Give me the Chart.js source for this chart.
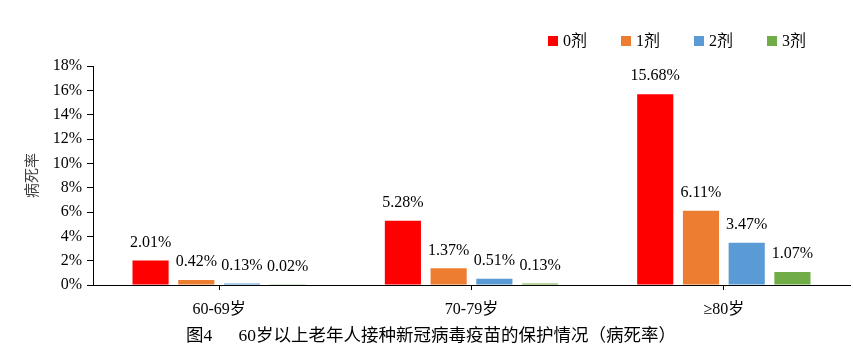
<!DOCTYPE html>
<html>
<head>
<meta charset="utf-8">
<script src="https://cdn.jsdelivr.net/npm/chart.js@4/dist/chart.umd.min.js"></script>
<style>
  html, body { margin: 0; padding: 0; background: #fff; }
  #wrap { width: 853px; height: 362px; }
</style>
</head>
<body>
<div id="wrap"><canvas id="myChart" width="853" height="362"></canvas></div>
<script>
  var categories = ['60-69岁', '70-79岁', '≥80岁'];
  var seriesNames = ['0剂', '1剂', '2剂', '3剂'];
  var dose0 = [2.01, 5.28, 15.68];
  var dose1 = [0.42, 1.37, 6.11];
  var dose2 = [0.13, 0.51, 3.47];
  var dose3 = [0.02, 0.13, 1.07];
  var colors = ['#FF0000', '#ED7D31', '#5B9BD5', '#70AD47'];
  var yTicks = [0, 2, 4, 6, 8, 10, 12, 14, 16, 18];

  var FONT = "'Liberation Serif', 'Noto Sans CJK SC', serif";

  // value labels above the bars
  var valueLabels = {
    id: 'valueLabels',
    afterDatasetsDraw: function(chart) {
      var ctx = chart.ctx;
      ctx.save();
      ctx.font = '16px ' + FONT;
      ctx.fillStyle = '#000';
      ctx.textAlign = 'center';
      ctx.textBaseline = 'middle';
      chart.data.datasets.forEach(function(ds, i) {
        chart.getDatasetMeta(i).data.forEach(function(bar, j) {
          ctx.fillText(ds.data[j].toFixed(2) + '%', bar.x, bar.y - 18);
        });
      });
      ctx.restore();
    }
  };

  // legend in the top right
  var topLegend = {
    id: 'topLegend',
    afterDraw: function(chart) {
      var ctx = chart.ctx;
      ctx.save();
      ctx.font = '16px ' + FONT;
      ctx.textBaseline = 'middle';
      ctx.textAlign = 'left';
      chart.data.datasets.forEach(function(ds, i) {
        var x = 548 + i * 73;
        ctx.fillStyle = ds.backgroundColor;
        ctx.fillRect(x, 36, 10, 10);
        ctx.fillStyle = '#000';
        ctx.fillText(ds.label, x + 15, 41.5);
      });
      ctx.restore();
    }
  };

  var datasets = [dose0, dose1, dose2, dose3].map(function(d, i) {
    return {
      label: seriesNames[i],
      data: d,
      backgroundColor: colors[i],
      categoryPercentage: 0.725,
      barPercentage: 0.79
    };
  });

  var ctx = document.getElementById('myChart').getContext('2d');
  var chart = new Chart(ctx, {
    type: 'bar',
    data: { labels: categories, datasets: datasets },
    plugins: [valueLabels, topLegend],
    options: {
      responsive: false,
      animation: false,
      layout: { padding: { left: 12, right: 3, top: 66, bottom: 15 } },
      plugins: {
        legend: { display: false },
        tooltip: { enabled: false },
        title: {
          display: true,
          position: 'bottom',
          text: '图4\u3000\u200260岁以上老年人接种新冠病毒疫苗的保护情况（病死率）',
          color: '#000',
          font: { family: FONT, size: 17.5, weight: 'normal', lineHeight: 1.2 },
          padding: { top: 0, bottom: 0 }
        }
      },
      scales: {
        x: {
          grid: { display: true, drawOnChartArea: false, offset: false, tickLength: 5, color: '#000' },
          border: { color: '#000', width: 1 },
          ticks: { color: '#000', padding: 10, font: { family: FONT, size: 16 } },
          afterFit: function(scale) { scale.height = 41; }
        },
        y: {
          min: 0,
          max: 18,
          afterBuildTicks: function(scale) {
            scale.ticks = yTicks.map(function(v) { return { value: v }; });
          },
          grid: { display: true, drawOnChartArea: false, tickLength: 6, color: '#000' },
          border: { color: '#000', width: 1 },
          ticks: {
            color: '#000',
            padding: 5,
            font: { family: FONT, size: 16 },
            callback: function(v) { return v + '%'; }
          },
          title: {
            display: true,
            text: '病死率',
            color: '#404040',
            font: { family: FONT, size: 15 },
            padding: { top: 12, bottom: 0 }
          },
          afterFit: function(scale) { scale.width = 81; }
        }
      }
    }
  });
</script>
</body>
</html>
